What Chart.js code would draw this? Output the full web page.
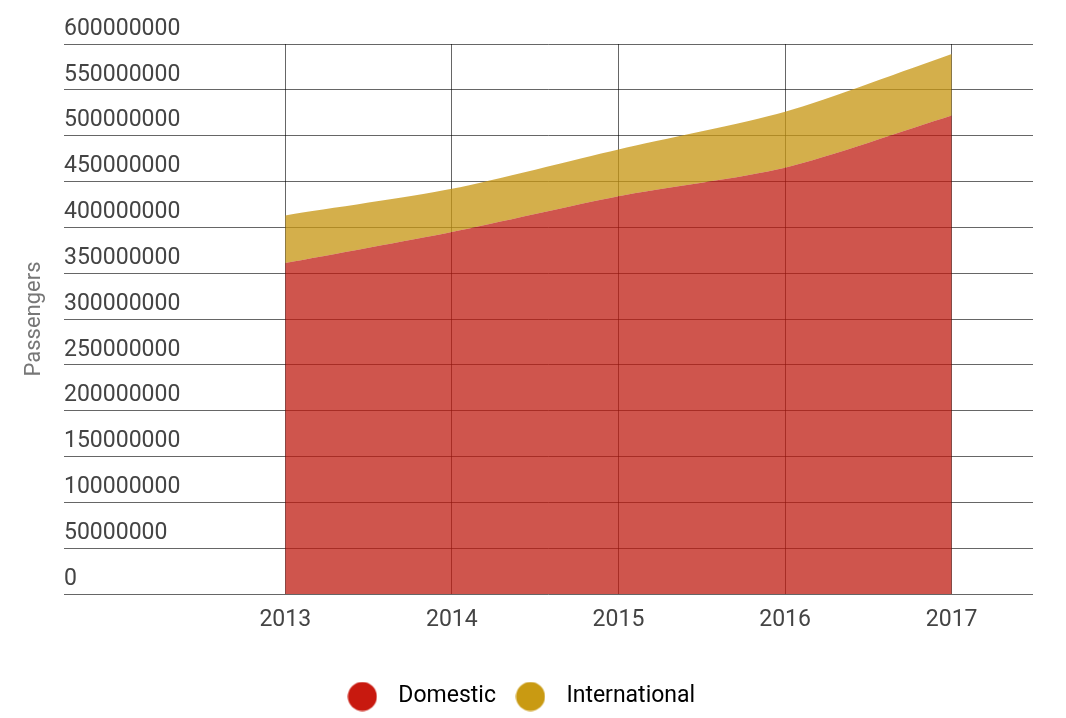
<!DOCTYPE html>
<html>
<head>
<meta charset="utf-8">
<script src="https://cdn.jsdelivr.net/npm/chart.js@4"></script>
<style>
  html, body { margin: 0; padding: 0; background: #fff; }
  #wrap { width: 1066px; height: 718px; }
</style>
</head>
<body>
<div id="wrap"><canvas id="chart" width="1066" height="718"></canvas></div>
<script>
// values
const years = [2013, 2014, 2015, 2016, 2017];
const domestic = [361000000, 395000000, 434000000, 465000000, 522000000];
const international = [52000000, 47000000, 51000000, 61000000, 67000000];
const seriesNames = ['Domestic', 'International'];

const legendColors = ['#c8190f', '#c99a12'];
const fillColors = ['rgba(190, 25, 15, 0.74)', 'rgba(199, 150, 18, 0.76)'];

// little circle used as legend marker
function dot(color) {
    const c = document.createElement('canvas');
    c.width = 30;
    c.height = 30;
    const g = c.getContext('2d');
    g.fillStyle = color;
    g.beginPath();
    g.arc(15, 15, 14.5, 0, Math.PI * 2);
    g.fill();
    return c;
}

const points = (vals) => years.map((y, i) => ({ x: y, y: vals[i] }));

const ctx = document.getElementById('chart').getContext('2d');
new Chart(ctx, {
    type: 'line',
    data: {
        datasets: [
            {
                label: seriesNames[0],
                data: points(domestic),
                backgroundColor: fillColors[0],
                borderWidth: 0,
                pointRadius: 0,
                fill: 'origin',
                tension: 0.25
            },
            {
                label: seriesNames[1],
                data: points(international),
                backgroundColor: fillColors[1],
                borderWidth: 0,
                pointRadius: 0,
                fill: '-1',
                tension: 0.25
            }
        ]
    },
    options: {
        responsive: false,
        animation: false,
        layout: {
            padding: { top: 44, right: 33, bottom: 0, left: 0 }
        },
        plugins: {
            tooltip: { enabled: false },
            legend: {
                position: 'bottom',
                labels: {
                    usePointStyle: true,
                    pointStyleWidth: 49,
                    padding: 10,
                    color: '#555',
                    font: { family: 'Roboto', size: 23 },
                    generateLabels: (chart) => chart.data.datasets.map((ds, i) => ({
                        text: ds.label,
                        fillStyle: legendColors[i],
                        strokeStyle: legendColors[i],
                        lineWidth: 0,
                        pointStyle: dot(legendColors[i]),
                        hidden: false,
                        datasetIndex: i
                    }))
                }
            }
        },
        scales: {
            x: {
                type: 'linear',
                min: 2011.672,
                max: 2017.488,
                afterBuildTicks: (scale) => {
                    scale.ticks = years.map(v => ({ value: v }));
                },
                afterFit: (scale) => { scale.height = 81; },
                border: { display: false },
                grid: { color: 'rgba(0,0,0,0.6)', lineWidth: 1, drawTicks: false },
                ticks: {
                    padding: 12,
                    color: '#444',
                    font: { family: 'Roboto', size: 23 },
                    callback: (v) => String(v)
                }
            },
            y: {
                stacked: true,
                min: 0,
                max: 600000000,
                afterFit: (scale) => { scale.width = 64; },
                border: { display: false },
                grid: { color: 'rgba(0,0,0,0.6)', lineWidth: 1, drawTicks: false },
                ticks: {
                    stepSize: 50000000,
                    mirror: true,
                    padding: 0,
                    labelOffset: -15,
                    color: '#444',
                    font: { family: 'Roboto', size: 23 },
                    callback: (v) => String(v)
                },
                title: {
                    display: true,
                    text: 'Passengers',
                    color: '#777',
                    font: { family: 'Roboto', size: 22 },
                    padding: { top: 21, bottom: 0 }
                }
            }
        }
    }
});
</script>
</body>
</html>
